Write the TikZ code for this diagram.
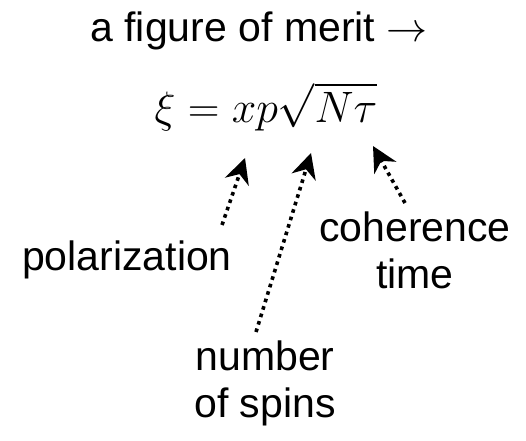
\RequirePackage{fix-cm}
\documentclass[tikz,border=0pt]{standalone}
\usepackage{fontspec}
\setmainfont{Liberation Sans}
\usetikzlibrary{arrows.meta}
\tikzset{
  lbl/.style={inner sep=0pt, font=\fontsize{41}{47}\selectfont, align=center},
  pointer/.style={line width=3.6pt, dash pattern=on 3.6pt off 4.2pt,
    -{Stealth[length=25pt, width=25pt, inset=8pt]}}
}
\begin{document}
\begin{tikzpicture}[x=1pt,y=-1pt]
\useasboundingbox (0,0) rectangle (526,440);
\node[lbl, anchor=base] (title) at (259,41) {a figure of merit $\rightarrow$};
\node[lbl, anchor=base, font=\fontsize{44}{50}\selectfont] (formula) at (266,122) {$\xi = xp\sqrt{N\tau}$};
\node[lbl, anchor=base] (pol) at (127,270) {polarization};
\node[lbl, anchor=base] (coh) at (415,288) {coherence\\time};
\node[lbl, anchor=base] (num) at (265,417) {number\\of spins};
\coordinate (ptip) at (245,158);
\coordinate (ptail) at (222,225);
\coordinate (ntip) at (311,153);
\coordinate (ntail) at (256,332);
\coordinate (ctip) at (373,146);
\coordinate (ctail) at (405,203);
\draw[pointer] (ptail) -- (ptip);
\draw[pointer] (ntail) -- (ntip);
\draw[pointer] (ctail) -- (ctip);
\end{tikzpicture}
\end{document}
